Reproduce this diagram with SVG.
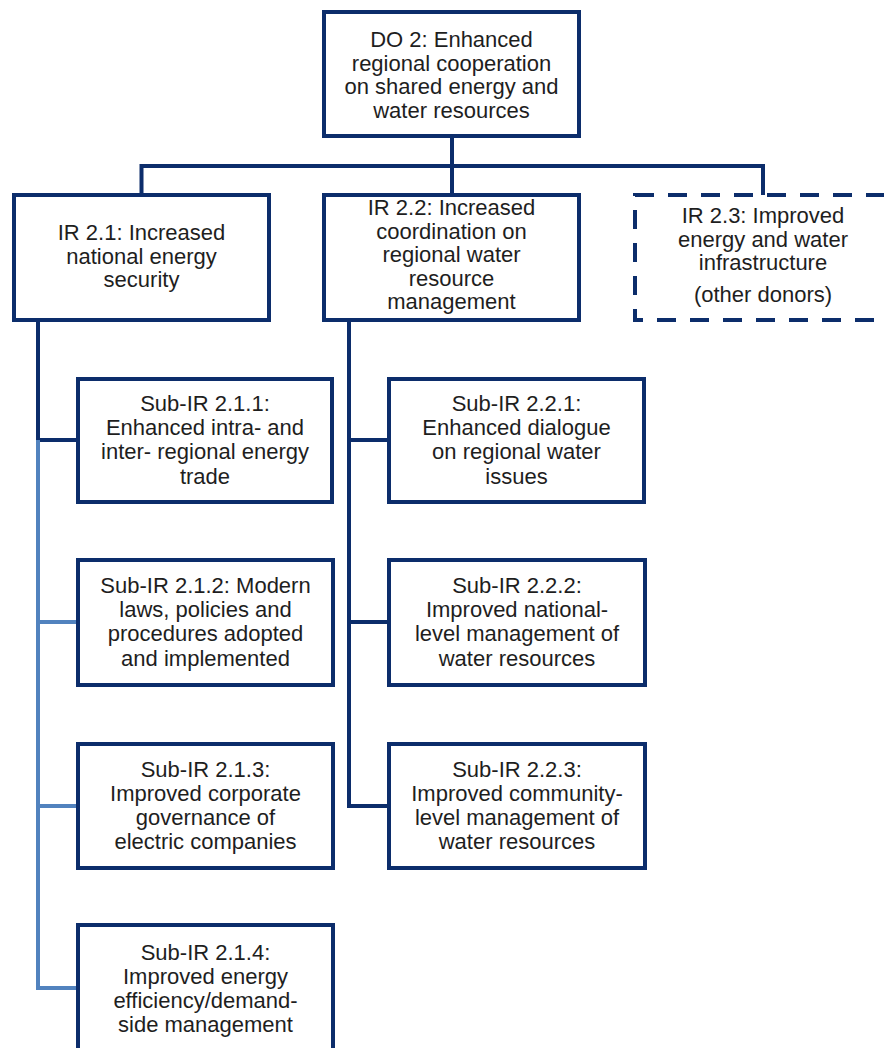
<svg xmlns="http://www.w3.org/2000/svg" width="884" height="1048" viewBox="0 0 884 1048">
<style>
.box{fill:#ffffff;stroke:#0c2d6b;stroke-width:4}
.dash{fill:#ffffff;stroke:#0c2d6b;stroke-width:4;stroke-dasharray:19 14}
.ln{fill:none;stroke:#0c2d6b;stroke-width:4}
.lt{fill:none;stroke:#5182be;stroke-width:4}
text{font-family:"Liberation Sans",Arial,sans-serif;font-size:22px;fill:#1e1e1e;text-anchor:middle}
</style>
<rect width="884" height="1048" fill="#ffffff"/>
<g id="connectors">
<path class="ln" d="M452 138V195"/>
<path class="ln" d="M141.5 195V166H763V195"/>
<path class="ln" d="M38 322V440H78"/>
<path class="lt" d="M38 440V988H78M38 622H78M38 806H78"/>
<path class="ln" d="M349 322V806H389M349 440H389M349 622H389"/>
</g>
<g id="do2">
<rect class="box" x="324" y="12" width="255" height="124"/>
<text x="451.5" y="47">DO 2: Enhanced</text>
<text x="451.5" y="70.5">regional cooperation</text>
<text x="451.5" y="94">on shared energy and</text>
<text x="451.5" y="117.5">water resources</text>
</g>
<g id="ir21">
<rect class="box" x="14" y="195" width="255" height="125"/>
<text x="141.5" y="240">IR 2.1: Increased</text>
<text x="141.5" y="263.5">national energy</text>
<text x="141.5" y="287">security</text>
</g>
<g id="ir22">
<rect class="box" x="324" y="195" width="255" height="125"/>
<text x="451.5" y="215">IR 2.2: Increased</text>
<text x="451.5" y="238.5">coordination on</text>
<text x="451.5" y="262">regional water</text>
<text x="451.5" y="285.5">resource</text>
<text x="451.5" y="309">management</text>
</g>
<g id="ir23">
<rect class="dash" x="635" y="195" width="255" height="125"/>
<text x="763" y="223">IR 2.3: Improved</text>
<text x="763" y="246.5">energy and water</text>
<text x="763" y="270">infrastructure</text>
<text x="763" y="302">(other donors)</text>
</g>
<g id="sub211">
<rect class="box" x="78" y="379" width="254" height="123"/>
<text x="205" y="411">Sub-IR 2.1.1:</text>
<text x="205" y="435">Enhanced intra- and</text>
<text x="205" y="459">inter- regional energy</text>
<text x="205" y="484">trade</text>
</g>
<g id="sub212">
<rect class="box" x="78" y="560" width="255" height="125"/>
<text x="205.5" y="593">Sub-IR 2.1.2: Modern</text>
<text x="205.5" y="617">laws, policies and</text>
<text x="205.5" y="641">procedures adopted</text>
<text x="205.5" y="666">and implemented</text>
</g>
<g id="sub213">
<rect class="box" x="78" y="744" width="255" height="124"/>
<text x="205.5" y="777">Sub-IR 2.1.3:</text>
<text x="205.5" y="801">Improved corporate</text>
<text x="205.5" y="825">governance of</text>
<text x="205.5" y="849">electric companies</text>
</g>
<g id="sub214">
<rect class="box" x="78" y="925" width="255" height="140"/>
<text x="205.5" y="960">Sub-IR 2.1.4:</text>
<text x="205.5" y="984">Improved energy</text>
<text x="205.5" y="1008">efficiency/demand-</text>
<text x="205.5" y="1032">side management</text>
</g>
<g id="sub221">
<rect class="box" x="389" y="379" width="255" height="123"/>
<text x="516.5" y="411">Sub-IR 2.2.1:</text>
<text x="516.5" y="435">Enhanced dialogue</text>
<text x="516.5" y="459">on regional water</text>
<text x="516.5" y="484">issues</text>
</g>
<g id="sub222">
<rect class="box" x="389" y="560" width="256" height="125"/>
<text x="517" y="593">Sub-IR 2.2.2:</text>
<text x="517" y="617">Improved national-</text>
<text x="517" y="641">level management of</text>
<text x="517" y="666">water resources</text>
</g>
<g id="sub223">
<rect class="box" x="389" y="744" width="256" height="124"/>
<text x="517" y="777">Sub-IR 2.2.3:</text>
<text x="517" y="801">Improved community-</text>
<text x="517" y="825">level management of</text>
<text x="517" y="849">water resources</text>
</g>
</svg>
